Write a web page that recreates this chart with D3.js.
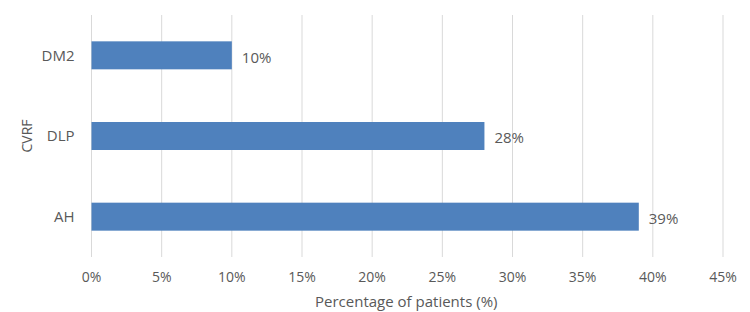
<!DOCTYPE html>
<html>
<head>
<meta charset="utf-8">
<script src="https://cdn.jsdelivr.net/npm/d3@7"></script>
<style>
  body { margin: 0; background: #fff; }
  text { font-family: "Open Sans", "Liberation Sans", sans-serif; fill: #595959; }
</style>
</head>
<body>
<div id="chart"></div>
<script>
// Data
const categories = ["DM2", "DLP", "AH"];
const values = [10, 28, 39];
const ticks = [0, 5, 10, 15, 20, 25, 30, 35, 40, 45];

const width = 750;
const height = 312;
const margin = { top: 15, right: 27, bottom: 55, left: 91.5 };
const innerW = width - margin.left - margin.right;
const innerH = height - margin.top - margin.bottom;

const svg = d3.select("#chart")
    .append("svg")
    .attr("width", width)
    .attr("height", height);

const g = svg.append("g")
    .attr("transform", `translate(${margin.left},${margin.top})`);

const x = d3.scaleLinear()
    .domain([0, 45])
    .range([0, innerW]);

const y = d3.scaleBand()
    .domain(categories)
    .range([0, innerH])
    .paddingInner(0.653)
    .paddingOuter(0.3265);

// Gridlines
g.selectAll(".grid")
    .data(ticks)
    .enter()
    .append("line")
    .attr("x1", d => x(d))
    .attr("x2", d => x(d))
    .attr("y1", 0)
    .attr("y2", innerH)
    .attr("stroke", "#d9d9d9")
    .attr("stroke-width", 1);

// X tick labels
g.selectAll(".xtick")
    .data(ticks)
    .enter()
    .append("text")
    .attr("x", d => x(d))
    .attr("y", innerH + 25)
    .attr("text-anchor", "middle")
    .style("font-size", "14px")
    .text(d => d + "%");

// Y category labels
g.selectAll(".ytick")
    .data(categories)
    .enter()
    .append("text")
    .attr("x", -17)
    .attr("y", d => y(d) + y.bandwidth() / 2)
    .attr("dy", "0.35em")
    .attr("text-anchor", "end")
    .style("font-size", "15px")
    .text(d => d);

// Bars
g.selectAll(".bar")
    .data(values)
    .enter()
    .append("rect")
    .attr("x", x(0))
    .attr("y", (d, i) => y(categories[i]))
    .attr("width", d => x(d) - x(0))
    .attr("height", y.bandwidth())
    .attr("fill", "#4f81bd");

// Value labels
g.selectAll(".label")
    .data(values)
    .enter()
    .append("text")
    .attr("x", d => x(d) + 10)
    .attr("y", (d, i) => y(categories[i]) + y.bandwidth() / 2 + 2)
    .attr("dy", "0.35em")
    .style("font-size", "15px")
    .text(d => d + "%");

// Axis titles
svg.append("text")
    .attr("x", margin.left + x(22.5) - 1)
    .attr("y", 307)
    .attr("text-anchor", "middle")
    .style("font-size", "15px")
    .text("Percentage of patients (%)");

svg.append("text")
    .attr("transform", `translate(32,${margin.top + innerH / 2}) rotate(-90)`)
    .attr("text-anchor", "middle")
    .style("font-size", "14px")
    .text("CVRF");
</script>
</body>
</html>
